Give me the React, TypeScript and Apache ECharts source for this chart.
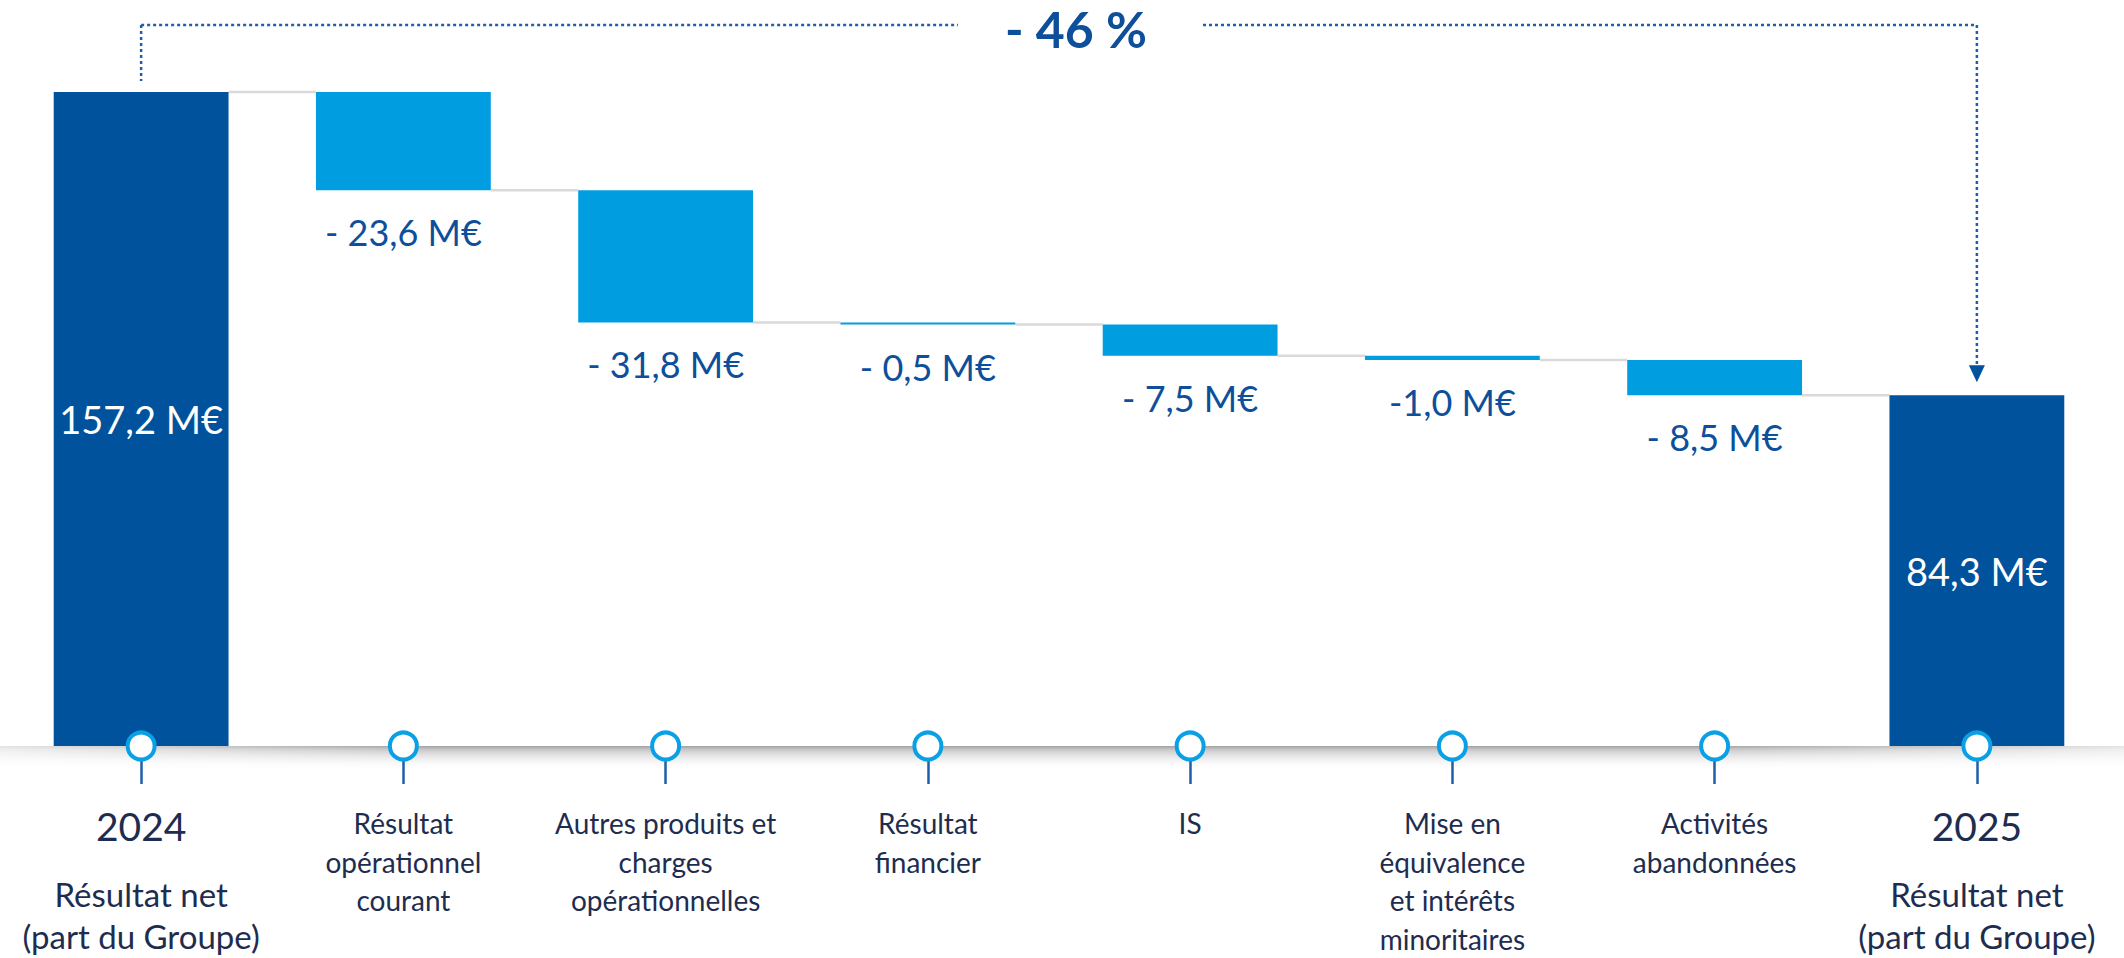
import React, { useEffect, useRef } from "react";
import * as echarts from "echarts";

// ---- Data ----
const CATEGORIES = [
  "2024",
  "Résultat\nopérationnel\ncourant",
  "Autres produits et\ncharges\nopérationnelles",
  "Résultat\nfinancier",
  "IS",
  "Mise en\néquivalence\net intérêts\nminoritaires",
  "Activités\nabandonnées",
  "2025",
];
const SUBTITLES = [
  "Résultat net\n(part du Groupe)",
  "",
  "",
  "",
  "",
  "",
  "",
  "Résultat net\n(part du Groupe)",
];
const START_VALUE = 157.2;
const DELTAS = [-23.6, -31.8, -0.5, -7.5, -1.0, -8.5];
const END_VALUE = 84.3;
const VALUE_LABELS = [
  "157,2 M€",
  "- 23,6 M€",
  "- 31,8 M€",
  "- 0,5 M€",
  "- 7,5 M€",
  "-1,0 M€",
  "- 8,5 M€",
  "84,3 M€",
];
const CHANGE_LABEL = "- 46 %";
const MARKER_LEVEL = 0;

// ---- Styles ----
const DARK = "#00529C";
const LIGHT = "#009EE0";
const LABEL_BLUE = "#0E4F9B";
const TEXT_NAVY = "#1E2D4F";
const DOT_BLUE = "#1F5FA9";
const FONT = "Lato";
const GAP = 1 / 3;

export default function App() {
  const ref = useRef<HTMLDivElement>(null);

  useEffect(() => {
    if (!ref.current) return;
    const chart = echarts.init(ref.current, undefined, { renderer: "svg" });

    // waterfall computation from the data
    const bases: number[] = [0];
    const heights: number[] = [START_VALUE];
    const levels: number[] = [START_VALUE];
    let running = START_VALUE;
    DELTAS.forEach((d) => {
      const next = running + d;
      bases.push(Math.min(running, next));
      heights.push(Math.abs(d));
      running = next;
      levels.push(running);
    });
    bases.push(0);
    heights.push(END_VALUE);
    const nLast = CATEGORIES.length - 1;
    const isTotal = (i: number) => i === 0 || i === nLast;

    const option: any = {
      animation: false,
      grid: { left: 10, right: 16, top: 92, bottom: 212, containLabel: false },
      xAxis: [
        {
          type: "category",
          data: CATEGORIES,
          position: "bottom",
          z: 3,
          axisLine: { show: false },
          axisTick: {
            show: true,
            alignWithLabel: true,
            interval: 0,
            length: 38,
            lineStyle: { color: DOT_BLUE, width: 2.5 },
          },
          axisLabel: {
            interval: 0,
            margin: 58,
            formatter: (v: string, i: number) =>
              isTotal(i) ? `{y|${v}}` : `{c|${v}}`,
            rich: {
              y: { fontSize: 39, lineHeight: 44, color: TEXT_NAVY, fontFamily: FONT },
              c: { fontSize: 28, lineHeight: 38.5, color: TEXT_NAVY, fontFamily: FONT },
            },
          },
        },
        {
          type: "category",
          data: CATEGORIES,
          position: "bottom",
          offset: 68,
          axisLine: { show: false },
          axisTick: { show: false },
          axisLabel: {
            interval: 0,
            margin: 59,
            formatter: (_v: string, i: number) =>
              SUBTITLES[i] ? `{s|${SUBTITLES[i]}}` : "",
            rich: {
              s: { fontSize: 33, lineHeight: 42, color: TEXT_NAVY, fontFamily: FONT },
            },
          },
        },
      ],
      yAxis: { type: "value", min: 0, max: START_VALUE, show: false },
      graphic: [
        {
          type: "rect",
          z: 1,
          silent: true,
          shape: { x: 0, y: 746, width: 2124, height: 24 },
          style: {
            fill: new echarts.graphic.LinearGradient(0, 0, 0, 1, [
              { offset: 0, color: "#a2a2a2" },
              { offset: 0.15, color: "#c8c8c8" },
              { offset: 1, color: "rgba(255,255,255,0)" },
            ]),
          },
        },
        {
          type: "rect",
          z: 1,
          silent: true,
          shape: { x: 0, y: 746, width: 2124, height: 24 },
          style: {
            fill: new echarts.graphic.LinearGradient(0, 0, 1, 0, [
              { offset: 0, color: "rgba(255,255,255,0.7)" },
              { offset: 0.2, color: "rgba(255,255,255,0)" },
              { offset: 0.8, color: "rgba(255,255,255,0)" },
              { offset: 1, color: "rgba(255,255,255,0.7)" },
            ]),
          },
        },
      ],
      series: [
        {
          type: "bar",
          stack: "w",
          silent: true,
          barCategoryGap: `${GAP * 100}%`,
          itemStyle: { color: "transparent" },
          data: bases,
        },
        {
          type: "bar",
          stack: "w",
          barCategoryGap: `${GAP * 100}%`,
          label: {
            show: true,
            fontFamily: FONT,
            formatter: (p: any) => VALUE_LABELS[p.dataIndex],
          },
          data: heights.map((h, i) => ({
            value: h,
            itemStyle: { color: isTotal(i) ? DARK : LIGHT },
            label: isTotal(i)
              ? { position: "inside", color: "#ffffff", fontSize: 38 }
              : { position: "bottom", distance: 24, color: LABEL_BLUE, fontSize: 36 },
          })),
        },
        {
          type: "custom",
          silent: true,
          clip: false,
          z: 1,
          data: levels.map((lv, i) => [i, lv]),
          renderItem: (_params: any, api: any) => {
            const i = api.value(0);
            const lv = api.value(1);
            const c1 = api.coord([i, lv]);
            const c2 = api.coord([i + 1, lv]);
            const bw = api.size([1, 0])[0];
            const half = (bw * (1 - GAP)) / 2;
            return {
              type: "line",
              shape: { x1: c1[0] + half, y1: c1[1], x2: c2[0] - half, y2: c1[1] },
              style: { stroke: "#dadada", lineWidth: 2.5 },
            };
          },
        },
        {
          type: "custom",
          silent: true,
          clip: false,
          z: 5,
          data: [[0, START_VALUE]],
          renderItem: (_params: any, api: any) => {
            const p0 = api.coord([0, START_VALUE]);
            const p7 = api.coord([nLast, END_VALUE]);
            const yTop = p0[1] - 67;
            const textX = (p0[0] + p7[0]) / 2 + 17;
            const ls = { stroke: DOT_BLUE, lineWidth: 2.5, lineDash: [3, 3] };
            return {
              type: "group",
              children: [
                { type: "line", shape: { x1: p0[0], y1: yTop, x2: p0[0], y2: p0[1] - 11 }, style: ls },
                { type: "line", shape: { x1: p0[0], y1: yTop, x2: textX - 118, y2: yTop }, style: ls },
                { type: "line", shape: { x1: textX + 127, y1: yTop, x2: p7[0], y2: yTop }, style: ls },
                { type: "line", shape: { x1: p7[0], y1: yTop, x2: p7[0], y2: p7[1] - 29 }, style: ls },
                {
                  type: "polygon",
                  shape: {
                    points: [
                      [p7[0] - 8, p7[1] - 30],
                      [p7[0] + 8, p7[1] - 30],
                      [p7[0], p7[1] - 13],
                    ],
                  },
                  style: { fill: DARK },
                },
                {
                  type: "text",
                  style: {
                    text: CHANGE_LABEL,
                    x: textX,
                    y: yTop + 4,
                    fill: LABEL_BLUE,
                    fontSize: 50,
                    fontWeight: "bold",
                    fontFamily: FONT,
                    align: "center",
                    verticalAlign: "middle",
                  },
                },
              ],
            };
          },
        },
        {
          type: "scatter",
          silent: true,
          clip: false,
          z: 10,
          symbol: "circle",
          symbolSize: 27,
          itemStyle: { color: "#ffffff", borderColor: "#0AA0E6", borderWidth: 4, opacity: 1 },
          data: CATEGORIES.map(() => MARKER_LEVEL),
        },
      ],
    };

    chart.setOption(option);
    return () => chart.dispose();
  }, []);

  return (
    <div
      ref={ref}
      style={{ position: "absolute", left: 0, top: 0, width: 2124, height: 958, background: "#fff" }}
    />
  );
}
